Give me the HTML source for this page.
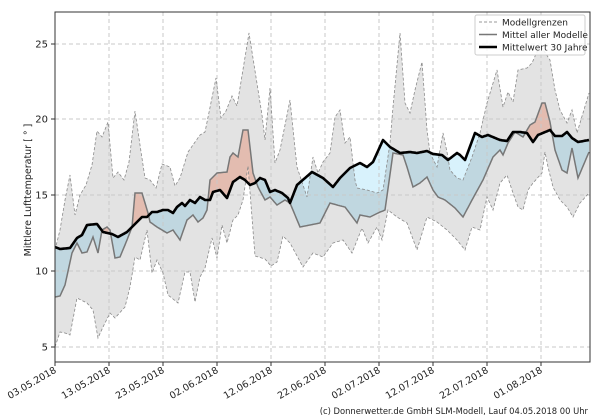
<!DOCTYPE html>
<html><head><meta charset="utf-8"><style>
html,body{margin:0;padding:0;background:#fff;}
svg{display:block;font-family:"DejaVu Sans","Liberation Sans",sans-serif;}
</style></head><body>
<svg id="s" width="600" height="420" viewBox="0 0 600 420" xmlns="http://www.w3.org/2000/svg"></svg>
<script>
const U=[[55,250],[60,230],[65,200],[70,175],[75,215],[80,195],[86,185],[92,165],[97,131],[102,137],[108,122],[113,178],[118,172],[124,180],[129,162],[135,111],[140,145],[145,178],[150,180],[156,188],[162,164],[170,167],[175,186],[180,178],[188,152],[200,135],[205,132],[216,78],[221,118],[226,111],[232,96],[237,106],[249,33],[262,115],[265,140],[270,88],[275,163],[280,150],[290,100],[297,167],[307,197],[313,157],[318,173],[323,162],[330,153],[335,117],[340,110],[345,143],[350,137],[355,180],[357,188],[367,190],[377,193],[383,190],[390,143],[393,107],[400,33],[405,103],[410,113],[415,90],[422,62],[427,130],[430,153],[437,167],[443,133],[447,152],[450,170],[457,178],[463,180],[472,157],[480,133],[487,103],[497,70],[503,107],[508,92],[513,102],[518,70],[527,68],[532,63],[540,45],[550,60],[555,90],[560,110],[567,123],[572,110],[577,133],[583,113],[589,93]];
const L=[[55,347],[60,332],[65,333],[70,335],[77,298],[87,303],[93,310],[98,338],[103,327],[110,313],[115,318],[125,307],[130,287],[135,257],[140,260],[147,230],[152,273],[157,260],[163,273],[168,295],[178,303],[185,272],[190,272],[195,302],[200,277],[205,268],[212,238],[217,258],[222,225],[227,243],[233,220],[238,215],[243,200],[248,166],[255,256],[265,259],[271,266],[277,262],[283,236],[290,243],[303,267],[313,253],[323,257],[333,243],[343,240],[352,253],[362,228],[368,243],[377,227],[382,240],[388,210],[397,217],[407,223],[417,250],[427,217],[437,222],[447,230],[457,240],[465,250],[472,227],[480,230],[487,197],[493,210],[500,183],[507,175],[513,193],[518,207],[523,210],[528,190],[533,183],[542,173],[545,152],[548,167],[553,187],[560,200],[567,207],[573,217],[580,203],[589,193]];
const M=[[55,297],[60,296],[65,285],[72,253],[77,243],[82,253],[87,252],[93,237],[98,253],[102,230],[107,227],[110,230],[115,258],[120,257],[127,240],[132,227],[135,193],[142,193],[148,213],[150,222],[157,227],[167,233],[173,230],[180,240],[187,220],[193,215],[198,222],[203,218],[207,210],[210,180],[217,173],[227,172],[230,157],[233,153],[238,157],[243,130],[248,130],[253,173],[258,187],[265,200],[270,197],[277,205],[285,200],[290,203],[300,227],[310,225],[320,223],[330,203],[337,205],[345,207],[357,223],[360,215],[370,217],[378,213],[385,210],[393,153],[403,155],[407,167],[413,187],[420,183],[427,177],[433,190],[438,197],[445,200],[455,208],[463,217],[472,200],[483,180],[493,157],[500,150],[503,155],[508,143],[515,132],[523,137],[530,125],[535,122],[542,103],[545,103],[550,122],[555,150],[562,170],[567,173],[572,148],[578,178],[589,152]];
const B=[[55,247],[60,249],[70,248],[77,238],[82,235],[87,225],[97,224],[103,232],[112,234],[118,237],[127,232],[137,222],[142,217],[147,217],[152,212],[157,212],[163,210],[168,210],[173,213],[177,207],[182,203],[185,206],[190,200],[195,203],[200,197],[205,200],[210,200],[213,192],[220,190],[227,198],[233,182],[240,177],[245,180],[250,185],[255,183],[260,178],[265,180],[270,192],[275,190],[282,193],[288,198],[290,203],[297,185],[312,172],[323,178],[333,187],[340,178],[350,168],[360,163],[367,167],[373,162],[383,140],[390,147],[400,153],[410,152],[417,153],[427,151],[433,154],[442,155],[448,160],[457,153],[460,155],[465,160],[475,133],[482,137],[488,135],[500,140],[507,141],[513,132],[520,132],[527,133],[533,142],[538,135],[550,130],[555,136],[562,136],[567,132],[572,138],[578,142],[589,140]];
function interp(P){const o=[];for(let x=55;x<=589;x++){let i=0;while(i<P.length-2&&P[i+1][0]<x)i++;const a=P[i],b=P[i+1];let t=(x-a[0])/(b[0]-a[0]);t=Math.max(0,Math.min(1,t));o.push([x,a[1]+(b[1]-a[1])*t]);}return o;}
const u=interp(U),l=interp(L),m=interp(M),b=interp(B);
const pts=a=>a.map(p=>p[0]+','+p[1].toFixed(1)).join(' ');
const rev=a=>a.slice().reverse();
let h='';
h+='<defs><clipPath id="abv"><polygon points="55,0 '+pts(b)+' 589,0"/></clipPath><clipPath id="blw"><polygon points="55,420 '+pts(b)+' 589,420"/></clipPath><clipPath id="pl"><rect x="55" y="12" width="535" height="350"/></clipPath></defs>';
const gx=[55,109,163,217,271,325,379,433,487,541];
const yv=[[5,347],[10,271],[15,195],[20,119],[25,44]];
let g='<g clip-path="url(#pl)">';
const between=pts(b)+' '+pts(rev(m));
g+='<polygon points="'+between+'" fill="#d8f2fc" clip-path="url(#blw)"/>';
g+='<polygon points="'+between+'" fill="#ffd4c6" clip-path="url(#abv)"/>';
g+='<polygon points="'+pts(u)+' '+pts(rev(l))+'" fill="rgba(0,0,0,0.11)"/>';
gx.forEach(x=>g+='<line x1="'+x+'" y1="12" x2="'+x+'" y2="362" stroke="#c8c8c8" stroke-dasharray="4,3" stroke-width="1"/>');
yv.forEach(v=>g+='<line x1="55" y1="'+v[1]+'" x2="590" y2="'+v[1]+'" stroke="#c8c8c8" stroke-dasharray="4,3" stroke-width="1"/>');
g+='<polyline points="'+pts(u)+'" fill="none" stroke="#8a8a8a" stroke-width="0.8" stroke-dasharray="3,2"/>';
g+='<polyline points="'+pts(l)+'" fill="none" stroke="#8a8a8a" stroke-width="0.8" stroke-dasharray="3,2"/>';
g+='<polyline points="'+pts(m)+'" fill="none" stroke="#777" stroke-width="1.5"/>';
g+='<polyline points="'+pts(b)+'" fill="none" stroke="#000" stroke-width="2.6" stroke-linejoin="round"/>';
g+='</g>';
h+=g;
h+='<rect x="55" y="12" width="535" height="350" fill="none" stroke="#333" stroke-width="1"/>';
yv.forEach(v=>{h+='<line x1="51" y1="'+v[1]+'" x2="55" y2="'+v[1]+'" stroke="#333"/><text x="48" y="'+(v[1]+3.5)+'" font-size="10" text-anchor="end" fill="#222">'+v[0]+'</text>';});
const lab=['03.05.2018','13.05.2018','23.05.2018','02.06.2018','12.06.2018','22.06.2018','02.07.2018','12.07.2018','22.07.2018','01.08.2018'];
gx.forEach((x,i)=>{h+='<line x1="'+x+'" y1="362" x2="'+x+'" y2="366" stroke="#333"/><text transform="translate('+(x+2)+',372) rotate(-30)" font-size="9.5" text-anchor="end" fill="#222">'+lab[i]+'</text>';});
h+='<text transform="translate(31,190) rotate(-90)" font-size="9.5" text-anchor="middle" fill="#222">Mittlere Lufttemperatur [ ° ]</text>';
h+='<text x="588" y="414" font-size="8.4" text-anchor="end" fill="#222">(c) Donnerwetter.de GmbH SLM-Modell, Lauf 04.05.2018 00 Uhr</text>';
h+='<rect x="475" y="15" width="110" height="40" rx="2" fill="#fff" fill-opacity="0.85" stroke="#ccc"/>';
h+='<line x1="479" y1="22" x2="497" y2="22" stroke="#999" stroke-dasharray="3,2"/><text x="502" y="25.5" font-size="9" fill="#222">Modellgrenzen</text>';
h+='<line x1="479" y1="34.5" x2="497" y2="34.5" stroke="#777" stroke-width="1.5"/><text x="502" y="38" font-size="9" fill="#222">Mittel aller Modelle</text>';
h+='<line x1="479" y1="47" x2="497" y2="47" stroke="#000" stroke-width="2.6"/><text x="502" y="50.5" font-size="9" fill="#222">Mittelwert 30 Jahre</text>';
document.getElementById('s').innerHTML=h;
</script>
</body></html>
